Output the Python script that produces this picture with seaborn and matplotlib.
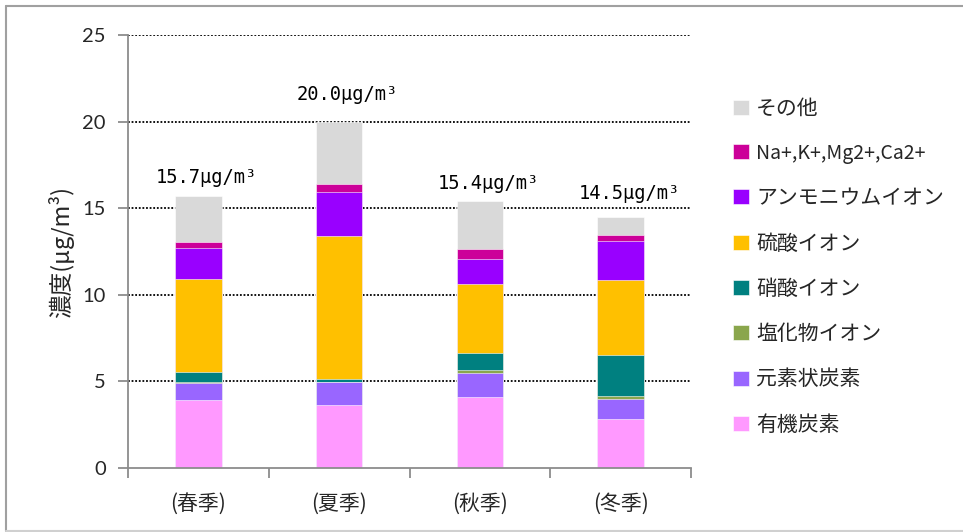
import matplotlib
matplotlib.use("Agg")
import matplotlib.pyplot as plt
from matplotlib.lines import Line2D
from matplotlib.ticker import FixedLocator
import numpy as np
import pandas as pd
import seaborn as sns

# Seasonal PM2.5 composition (µg/m³)
seasons = ["(春季)", "(夏季)", "(秋季)", "(冬季)"]
organic_carbon = [3.93, 3.64, 4.10, 2.83]      # 有機炭素
elemental_carbon = [1.00, 1.30, 1.40, 1.14]    # 元素状炭素
chloride = [0.05, 0.05, 0.16, 0.19]            # 塩化物イオン
nitrate = [0.55, 0.17, 1.00, 2.38]             # 硝酸イオン
sulfate = [5.40, 8.25, 3.95, 4.31]             # 硫酸イオン
ammonium = [1.75, 2.55, 1.44, 2.27]            # アンモニウムイオン
cations = [0.38, 0.45, 0.59, 0.35]             # Na+,K+,Mg2+,Ca2+
other = [2.64, 3.59, 2.76, 1.03]               # その他
totals = [15.7, 20.0, 15.4, 14.5]
total_labels = ["15.7μg/m³", "20.0μg/m³", "15.4μg/m³", "14.5μg/m³"]

components = ["有機炭素", "元素状炭素", "塩化物イオン", "硝酸イオン",
              "硫酸イオン", "アンモニウムイオン", "Na+,K+,Mg2+,Ca2+", "その他"]
values = [organic_carbon, elemental_carbon, chloride, nitrate,
          sulfate, ammonium, cations, other]
colors = ["#ff99ff", "#9966ff", "#8aa64c", "#008080",
          "#ffc000", "#9900ff", "#cc0099", "#d9d9d9"]

sns.set_theme(style="white")
plt.rcParams["font.family"] = ["Noto Sans CJK JP", "DejaVu Sans"]

fig = plt.figure(figsize=(9.63, 5.32), dpi=100)
ax = fig.add_axes([128 / 963, 64 / 532, 563 / 963, 433 / 532])

# Stacked bars: draw cumulative heights from the top layer down,
# so every lower component is painted over the one above it.
cum = np.cumsum(np.array(values), axis=0)
for i in range(len(components) - 1, -1, -1):
    df = pd.DataFrame({"season": seasons, "value": cum[i]})
    sns.barplot(data=df, x="season", y="value", color=colors[i],
                width=0.33, saturation=1, edgecolor="white", linewidth=0.4,
                label=components[i], ax=ax, zorder=3)

# Total labels above each bar
label_offsets = [1.1, 1.55, 1.0, 1.35]
for xi, (tot, txt, off) in enumerate(zip(totals, total_labels, label_offsets)):
    ax.text(xi + 0.06, tot + off, txt, ha="center", va="center",
            fontsize=13.5, family=["DejaVu Sans Mono"], color="black")

ax.set_ylim(0, 25)
ax.set_xlim(-0.5, 3.5)
ax.set_yticks([0, 5, 10, 15, 20, 25])
ax.set_yticklabels(["0", "5", "10", "15", "20", "25"], family=["Lato"], fontsize=14.5)
ax.set_xlabel("")
ax.set_ylabel("濃度(μg/m³)", fontsize=17, labelpad=6)

# Dotted horizontal gridlines
for yv in [5, 10, 15, 20, 25]:
    ax.axhline(yv, color="black", linestyle=(0, (1, 1)), linewidth=1.3, zorder=1)

for s in ["top", "right"]:
    ax.spines[s].set_visible(False)
for s in ["left", "bottom"]:
    ax.spines[s].set_color("#8c8c8c")
    ax.spines[s].set_linewidth(1.3)
    ax.spines[s].set_zorder(4)

ax.tick_params(axis="y", which="major", length=7, width=1.3, color="#8c8c8c",
               direction="out", left=True, pad=9)
ax.tick_params(axis="x", which="major", length=0, pad=18, labelsize=15)
ax.xaxis.set_minor_locator(FixedLocator([-0.5, 0.5, 1.5, 2.5, 3.5]))
ax.tick_params(axis="x", which="minor", length=7, width=1.3, color="#8c8c8c",
               direction="out", bottom=True)

handles, labels = ax.get_legend_handles_labels()
leg = ax.legend(handles, labels, loc="upper left", bbox_to_anchor=(1.06, 0.875),
                frameon=False, fontsize=15, handlelength=0.75, handleheight=0.75,
                handletextpad=0.35, labelspacing=1.12, borderaxespad=0)
for t in leg.get_texts():
    if t.get_text().startswith("Na"):
        t.set_fontsize(14)

# Outer chart frame
fig.add_artist(Line2D([6 / 963, 6 / 963], [1 / 532, 526 / 532], color="#a0a0a0",
                      linewidth=1.5, transform=fig.transFigure))
fig.add_artist(Line2D([6 / 963, 1.0], [526 / 532, 526 / 532], color="#a0a0a0",
                      linewidth=1.5, transform=fig.transFigure))
fig.add_artist(Line2D([6 / 963, 1.0], [1.5 / 532, 1.5 / 532], color="#d0d0d0",
                      linewidth=1.5, transform=fig.transFigure))

fig.savefig("out.png", dpi=100)
